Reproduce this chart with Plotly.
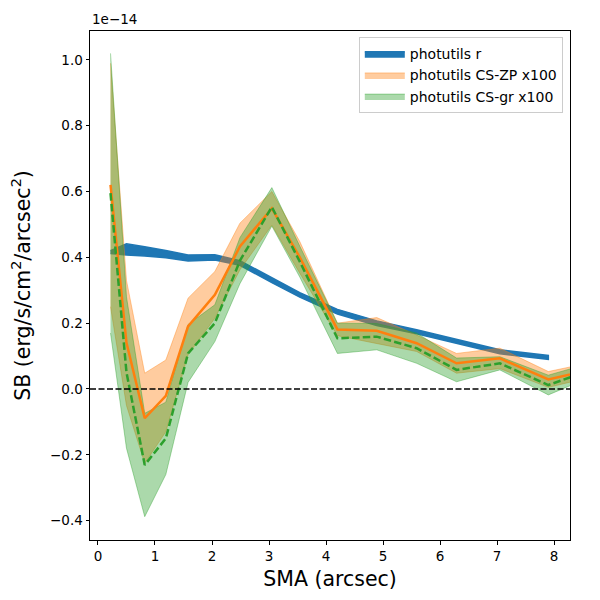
import plotly.graph_objects as go

# =============================================================================
# DATA (surface brightness in units of 1e-14 erg/s/cm^2/arcsec^2)
# =============================================================================

sma = [0.22, 0.50, 0.82, 1.19, 1.58, 2.05, 2.49, 3.05, 3.54, 4.20, 4.89, 5.59, 6.29, 7.05, 7.90, 8.75]

# photutils r (profile stops at 7.9 arcsec)
sma_r = sma[:15]
sb_r = [0.416, 0.424, 0.418, 0.410, 0.398, 0.400, 0.383, 0.330, 0.286, 0.235, 0.200, 0.174, 0.144, 0.113, 0.096]
err_r = [0.004, 0.017, 0.014, 0.011, 0.009, 0.008, 0.007, 0.007, 0.007, 0.007, 0.007, 0.006, 0.006, 0.006, 0.006]

# photutils CS-ZP x100
sb_zp = [0.620, 0.140, -0.089, -0.021, 0.190, 0.286, 0.433, 0.549, 0.400, 0.181, 0.177, 0.139, 0.078, 0.093, 0.029, 0.062]
sb_zp_hi = [0.990, 0.330, 0.048, 0.088, 0.276, 0.357, 0.504, 0.600, 0.448, 0.200, 0.217, 0.164, 0.108, 0.124, 0.053, 0.084]
sb_zp_lo = [0.250, -0.050, -0.226, -0.130, 0.104, 0.215, 0.362, 0.498, 0.352, 0.162, 0.137, 0.114, 0.048, 0.062, 0.005, 0.040]

# photutils CS-gr x100
sb_gr = [0.595, 0.050, -0.231, -0.150, 0.108, 0.200, 0.390, 0.553, 0.387, 0.154, 0.159, 0.124, 0.058, 0.078, 0.012, 0.064]
sb_gr_hi = [1.020, 0.280, -0.074, -0.040, 0.196, 0.256, 0.460, 0.612, 0.434, 0.200, 0.199, 0.170, 0.094, 0.098, 0.042, 0.084]
sb_gr_lo = [0.170, -0.180, -0.388, -0.260, 0.020, 0.144, 0.320, 0.495, 0.340, 0.108, 0.119, 0.078, 0.022, 0.058, -0.018, 0.044]

BLUE = "#1f77b4"
ORANGE = "#ff7f0e"
GREEN = "#2ca02c"
FONT = "DejaVu Sans"


def band(x, lo, hi):
    # polygon for a fill_between-like band
    return list(x) + list(x)[::-1], list(hi) + list(lo)[::-1]


fig = go.Figure()

# blue band
r_hi = [v + e for v, e in zip(sb_r, err_r)]
r_lo = [v - e for v, e in zip(sb_r, err_r)]
bx, by = band(sma_r, r_lo, r_hi)
fig.add_trace(go.Scatter(x=bx, y=by, fill="toself", fillcolor=BLUE, mode="lines",
                         line=dict(color=BLUE, width=1.5), name="photutils r"))

# orange band
bx, by = band(sma, sb_zp_lo, sb_zp_hi)
fig.add_trace(go.Scatter(x=bx, y=by, fill="toself", fillcolor="rgba(255,127,14,0.4)", mode="lines",
                         line=dict(color="rgba(255,127,14,0.4)", width=1), name="photutils CS-ZP x100"))

# green band
bx, by = band(sma, sb_gr_lo, sb_gr_hi)
fig.add_trace(go.Scatter(x=bx, y=by, fill="toself", fillcolor="rgba(44,160,44,0.4)", mode="lines",
                         line=dict(color="rgba(44,160,44,0.4)", width=1), name="photutils CS-gr x100"))

# center lines
fig.add_trace(go.Scatter(x=sma, y=sb_zp, mode="lines", line=dict(color=ORANGE, width=2.5),
                         showlegend=False))
fig.add_trace(go.Scatter(x=sma, y=sb_gr, mode="lines", line=dict(color=GREEN, width=2.5, dash="7.5px,3.2px"),
                         showlegend=False))

# zero line
fig.add_shape(type="line", xref="paper", x0=0, x1=1, yref="y", y0=0, y1=0,
              line=dict(color="black", width=1.5, dash="6px,2.5px"))

fig.add_annotation(text="1e\u221214", xref="paper", yref="paper", x=0, y=1,
                   xanchor="left", yanchor="bottom", yshift=2, showarrow=False,
                   font=dict(family=FONT, size=13.5, color="black"))

axis_common = dict(showline=True, linecolor="black", linewidth=1, mirror=True,
                   ticks="outside", ticklen=3.5, tickwidth=0.8, tickcolor="black",
                   showgrid=False, zeroline=False, automargin=False,
                   tickfont=dict(family=FONT, size=13.5, color="black"))

fig.update_xaxes(range=[-0.14, 8.28], tick0=0, dtick=1,
                 title=dict(text="SMA (arcsec)", font=dict(family=FONT, size=20.5, color="black"), standoff=8),
                 **axis_common)
fig.update_yaxes(range=[-0.459, 1.088], tick0=0, dtick=0.2, tickformat=".1f",
                 title=dict(text="SB (erg/s/cm<sup>2</sup>/arcsec<sup>2</sup>)",
                            font=dict(family=FONT, size=20.5, color="black"), standoff=14),
                 **axis_common)

# the page adds an 8px body margin, so the margins are shifted by 8px
fig.update_layout(
    width=600, height=600,
    margin=dict(l=82, r=38, t=23, b=68),
    plot_bgcolor="white", paper_bgcolor="white",
    font=dict(family=FONT, color="black"),
    legend=dict(x=0.985, y=0.988, xanchor="right", yanchor="top",
                bordercolor="#cccccc", borderwidth=1, bgcolor="rgba(255,255,255,0.8)",
                itemwidth=40, tracegroupgap=2,
                font=dict(family=FONT, size=14, color="black")),
)

fig.write_html("out.html")
